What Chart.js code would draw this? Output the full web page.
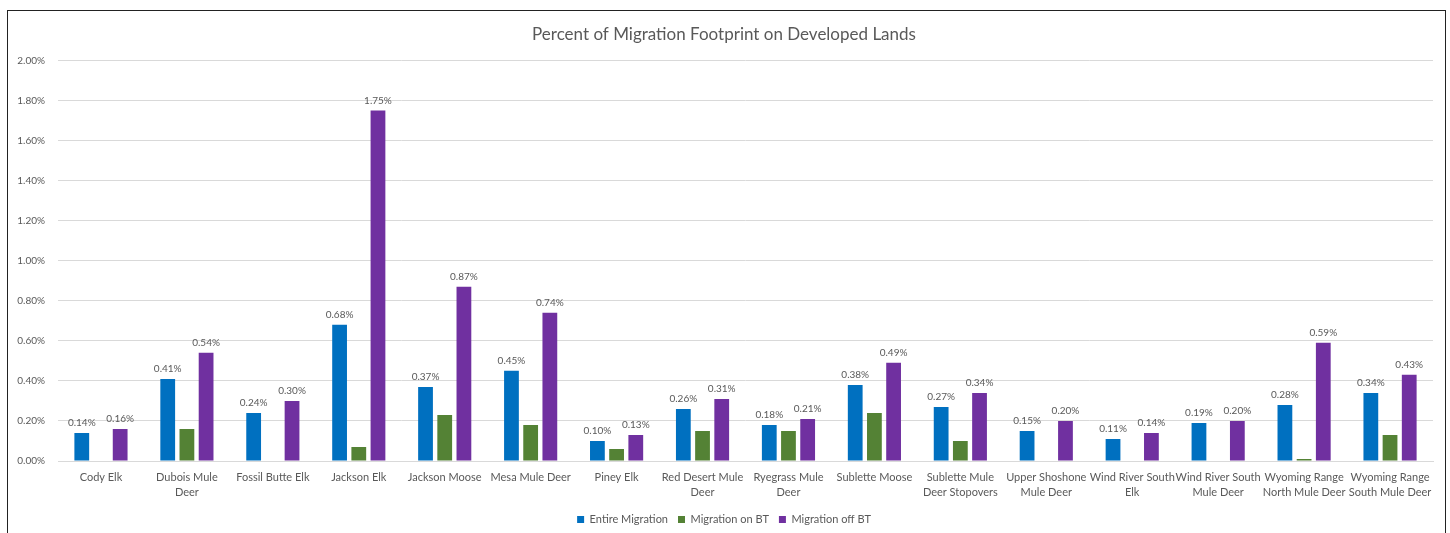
<!DOCTYPE html>
<html>
<head>
<meta charset="utf-8">
<script src="https://cdn.jsdelivr.net/npm/chart.js@4/dist/chart.umd.min.js"></script>
<style>
    html, body { margin: 0; padding: 0; background: #fff; }
    #frame {
        position: absolute; left: 7px; top: 10px; width: 1439px; height: 540px;
        border: 1.5px solid #222; border-bottom: none; box-sizing: border-box;
    }
    #wrap { position: absolute; left: 0; top: 0; width: 1450px; height: 533px; }
</style>
</head>
<body>
<div id="frame"></div>
<div id="wrap"><canvas id="bar"></canvas></div>
<script>
// herds / corridors
var categorias = [
    "Cody Elk", ["Dubois Mule", "Deer"], "Fossil Butte Elk", "Jackson Elk", "Jackson Moose",
    "Mesa Mule Deer", "Piney Elk", ["Red Desert Mule", "Deer"], ["Ryegrass Mule", "Deer"],
    "Sublette Moose", ["Sublette Mule", "Deer Stopovers"], ["Upper Shoshone", "Mule Deer"],
    ["Wind River South", "Elk"], ["Wind River South", "Mule Deer"],
    ["Wyoming Range", "North Mule Deer"], ["Wyoming Range", "South Mule Deer"]
];
// percent of footprint on developed lands
var entireMigration = [0.14, 0.41, 0.24, 0.68, 0.37, 0.45, 0.10, 0.26, 0.18, 0.38, 0.27, 0.15, 0.11, 0.19, 0.28, 0.34];
var migrationOnBT   = [0, 0.16, 0, 0.07, 0.23, 0.18, 0.06, 0.15, 0.15, 0.24, 0.10, 0, 0, 0, 0.01, 0.13];
var migrationOffBT  = [0.16, 0.54, 0.30, 1.75, 0.87, 0.74, 0.13, 0.31, 0.21, 0.49, 0.34, 0.20, 0.14, 0.20, 0.59, 0.43];
var series = ["Entire Migration", "Migration on BT", "Migration off BT"];
var ticksY = [0, 0.2, 0.4, 0.6, 0.8, 1.0, 1.2, 1.4, 1.6, 1.8, 2.0];

var gris = "#595959";
var fuente = "Lato, 'Open Sans', sans-serif";

// values above the blue and purple bars
var etiquetas = {
    id: "etiquetas",
    afterDatasetsDraw: function (chart) {
        var ctx = chart.ctx;
        ctx.save();
        ctx.font = "10px " + fuente;
        ctx.fillStyle = gris;
        ctx.textAlign = "center";
        ctx.textBaseline = "bottom";
        [0, 2].forEach(function (i) {
            var meta = chart.getDatasetMeta(i);
            meta.data.forEach(function (bar, j) {
                var v = chart.data.datasets[i].data[j];
                ctx.fillText(v.toFixed(2) + "%", bar.x, bar.y - 5);
            });
        });
        ctx.restore();
    }
};

function crearGrafico(container) {
    return new Chart(container, {
        type: "bar",
        data: {
            labels: categorias,
            datasets: [
                { label: series[0], data: entireMigration, backgroundColor: "#0070C0" },
                { label: series[1], data: migrationOnBT, backgroundColor: "#548235" },
                { label: series[2], data: migrationOffBT, backgroundColor: "#7030A0" }
            ]
        },
        options: {
            responsive: true,
            maintainAspectRatio: false,
            animation: false,
            layout: { padding: { left: 15, right: 17, top: 24, bottom: -2 } },
            datasets: { bar: { categoryPercentage: 0.67, barPercentage: 0.77 } },
            plugins: {
                title: {
                    display: true,
                    text: "Percent of Migration Footprint on Developed Lands",
                    color: gris,
                    font: { family: fuente, size: 17, weight: "normal" },
                    padding: { top: 0, bottom: 16 }
                },
                legend: {
                    position: "bottom",
                    labels: {
                        color: gris,
                        font: { family: fuente, size: 11 },
                        boxWidth: 7,
                        boxHeight: 7,
                        padding: 10
                    }
                },
                tooltip: { enabled: false }
            },
            scales: {
                x: {
                    afterFit: function (s) { s.height = 43; },
                    grid: { display: false, drawTicks: false },
                    border: { color: "#d9d9d9" },
                    ticks: {
                        color: gris,
                        font: { family: fuente, size: 11, lineHeight: 1.36 },
                        autoSkip: false,
                        maxRotation: 0,
                        padding: 9
                    }
                },
                y: {
                    min: 0,
                    max: 2,
                    afterFit: function (s) { s.width = 43; },
                    afterBuildTicks: function (s) {
                        s.ticks = ticksY.map(function (v) { return { value: v }; });
                    },
                    grid: { color: "#d9d9d9", drawTicks: false },
                    border: { display: false },
                    ticks: {
                        color: gris,
                        font: { family: fuente, size: 10 },
                        padding: 13,
                        callback: function (v) { return v.toFixed(2) + "%"; }
                    }
                }
            }
        },
        plugins: [etiquetas]
    });
}

crearGrafico(document.getElementById("bar"));
</script>
</body>
</html>
